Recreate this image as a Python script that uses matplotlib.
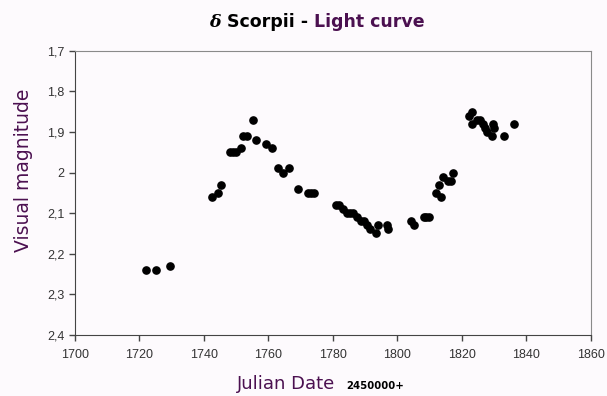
import matplotlib
matplotlib.use('Agg')
import matplotlib.pyplot as plt
from matplotlib.ticker import FuncFormatter, MultipleLocator

# Julian date (minus 2450000) and visual magnitude
jd = [1722, 1725, 1729.5,
      1742.4, 1744.5, 1745.3, 1748, 1749, 1750, 1751.4, 1752.1, 1753.3,
      1755.1, 1756.2, 1759.3, 1761.2, 1763.1, 1764.4, 1766.3, 1769.2,
      1772.4, 1773.2, 1774.3,
      1781, 1782, 1783.1, 1784.3, 1785.3, 1786.3, 1787.6, 1788.6, 1789.7,
      1790.7, 1791.5, 1793.4, 1794.1, 1796.9, 1797,
      1804.2, 1805.3, 1808.3, 1809, 1809.7,
      1812, 1813.5, 1813, 1814.1, 1815.8, 1816.6, 1817.2,
      1822.3, 1823.3, 1823.1, 1824.6, 1825.7, 1826.5, 1827.2, 1827.7,
      1829.3, 1829.8, 1830, 1833.1, 1836.3]
mag = [2.24, 2.24, 2.23,
       2.06, 2.05, 2.03, 1.95, 1.95, 1.95, 1.94, 1.91, 1.91,
       1.87, 1.92, 1.93, 1.94, 1.99, 2.00, 1.99, 2.04,
       2.05, 2.05, 2.05,
       2.08, 2.08, 2.09, 2.10, 2.10, 2.10, 2.11, 2.12, 2.12,
       2.13, 2.14, 2.15, 2.13, 2.13, 2.14,
       2.12, 2.13, 2.11, 2.11, 2.11,
       2.05, 2.06, 2.03, 2.01, 2.02, 2.02, 2.00,
       1.86, 1.85, 1.88, 1.87, 1.87, 1.88, 1.89, 1.90,
       1.91, 1.88, 1.89, 1.91, 1.88]

purple = '#4b1050'
bg = '#fdfafd'

plt.rcParams['font.family'] = ['Liberation Sans', 'DejaVu Sans']

fig = plt.figure(figsize=(6.07, 3.96), dpi=100, facecolor=bg)
ax = fig.add_axes([0.1236, 0.154, 0.8495, 0.718], facecolor=bg)

ax.plot(jd, mag, 'o', color='black', markersize=5.2, linestyle='none')

ax.set_xlim(1700, 1860)
ax.set_ylim(2.4, 1.7)
ax.xaxis.set_major_locator(MultipleLocator(20))
ax.yaxis.set_major_locator(MultipleLocator(0.1))
ax.yaxis.set_major_formatter(FuncFormatter(lambda v, p: ('%g' % round(v, 2)).replace('.', ',')))

ax.spines['left'].set_color('#444444')
ax.spines['bottom'].set_color('#444444')
ax.spines['top'].set_color('#8a8a8a')
ax.spines['right'].set_color('#8a8a8a')
ax.tick_params(direction='out', length=4, width=1, colors='#444444',
               labelsize=9, labelcolor='#333333')
ax.tick_params(axis='x', pad=6)

fig.text(24 / 607, 1 - 170 / 396, 'Visual magnitude', color=purple, fontsize=13.5,
         family=['DejaVu Sans'], rotation=90, ha='center', va='center')


def put_row(x, y, parts):
    # place text pieces one after another on a common baseline (pixel coords)
    r = fig.canvas.get_renderer()
    for s, kw in parts:
        t = fig.text(x / 607, 1 - y / 396, s, ha='left', va='baseline', **kw)
        x = t.get_window_extent(r).x1


fig.canvas.draw()
# title in two colours
put_row(209, 27, [
    ('δ ', dict(fontsize=12.5, fontweight='bold', fontstyle='italic', family=['DejaVu Serif'])),
    ('Scorpii - ', dict(fontsize=12.5, fontweight='bold', family=['DejaVu Sans'])),
    ('Light curve', dict(fontsize=12.5, fontweight='bold', family=['DejaVu Sans'], color=purple)),
])
# x label: "Julian Date" + small bold "2450000+"
put_row(237, 389, [
    ('Julian Date  ', dict(fontsize=13, family=['DejaVu Sans'], color=purple)),
    ('2450000+', dict(fontsize=7.3, fontweight='bold', family=['DejaVu Sans'], color='black')),
])

fig.savefig('out.png', dpi=100, facecolor=bg)
